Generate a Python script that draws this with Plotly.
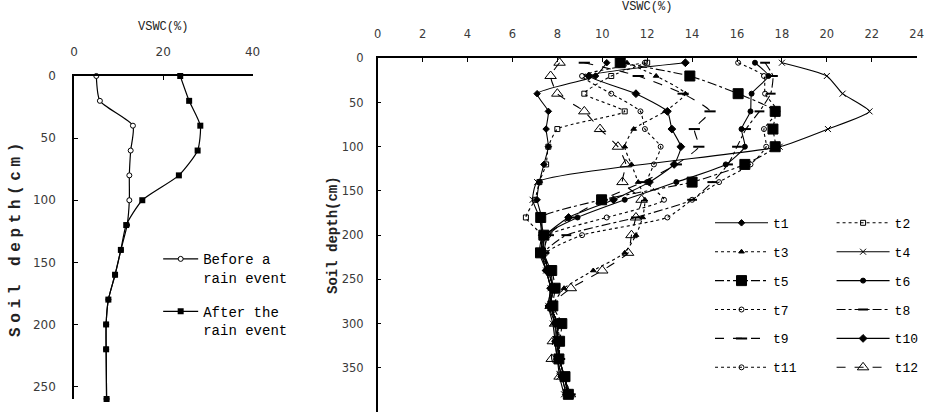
import plotly.graph_objects as go

# ---------------- data ----------------
# Left panel: one profile before and one after a rain event
left_depth = [0, 20, 40, 60, 80, 100, 120, 140, 160, 180, 200, 220, 260]
before_rain = [5.0, 5.8, 13.2, 12.7, 12.4, 12.4, 11.9, 10.5, 9.2, 7.7, 7.2, 7.2, 7.3]
after_rain = [23.8, 25.8, 28.3, 27.7, 23.5, 15.3, 11.7, 10.5, 9.2, 7.7, 7.2, 7.2, 7.3]

# Right panel: twelve profiles t1..t12
depth = [5, 20, 40, 60, 80, 100, 120, 140, 160, 180, 200, 220, 240, 260, 280, 300, 320, 340, 360, 380]
t1 = [10.2, 9.7, 7.1, 7.6, 7.5, 7.6, 7.4, 7.2, 7.1, 7.3, 7.3, 7.2, 7.5, 7.7, 7.6, 7.9, 7.9, 8.0, 8.2, 8.4]
t2 = [12.0, 10.4, 9.2, 11.0, 8.0, 7.6, 7.5, 7.2, 7.0, 6.6, 7.3, 7.3, 7.6, 7.8, 7.7, 8.0, 8.0, 8.1, 8.3, 8.5]
t3 = [11.1, 12.4, 13.7, 12.8, 11.4, 11.0, 11.3, 11.6, 11.9, 11.8, 11.5, 11.0, 9.6, 8.3, 7.8, 8.0, 8.1, 8.1, 8.3, 8.6]
t4 = [18.0, 20.0, 20.7, 21.9, 20.05, 17.9, None, 7.1, 6.9, 7.2, 7.3, 7.3, 7.5, 7.7, 7.6, 7.8, 7.9, 8.0, 8.1, 8.3]
t5 = [10.8, 13.9, 16.05, 17.7, 17.6, 17.7, 16.35, 14.0, 9.97, 7.26, 7.4, 7.25, 7.75, 7.9, 7.8, 8.2, 8.1, 8.07, 8.34, 8.49]
t6 = [16.8, 17.4, 16.65, 16.6, 16.2, 16.35, 15.5, 13.3, 11.0, 8.9, 7.45, 7.4, 7.7, 7.8, 7.7, 8.0, 8.0, 8.1, 8.3, 8.5]
t7 = [16.05, 17.2, 17.25, 17.8, 17.2, 17.3, 16.6, 15.2, 14.0, 12.9, 9.1, 7.5, 7.6, 7.8, 7.7, 8.0, 8.0, 8.1, 8.3, 8.5]
t8 = [17.25, 17.6, 17.5, 17.0, 16.4, 16.0, 15.6, 14.9, 14.0, 11.5, 8.4, 7.4, 7.6, 7.8, 7.7, 8.0, 8.1, 8.1, 8.3, 8.6]
t9 = [9.2, 11.6, 13.6, 14.8, 14.1, 14.3, 13.3, 11.8, 10.0, 8.6, 7.6, 7.4, 7.6, 7.8, 7.7, 8.0, 8.0, 8.1, 8.3, 8.5]
t10 = [13.7, 9.4, 11.5, 12.9, 13.1, 13.5, 13.2, 12.1, 10.5, 8.5, 7.5, 7.3, 7.5, 7.7, 7.7, 7.9, 8.0, 8.0, 8.2, 8.4]
t11 = [11.9, 9.1, 10.4, 11.7, 11.9, 12.6, 12.3, 12.0, 12.75, 10.2, 7.6, 7.4, 7.6, 7.8, 7.7, 8.0, 8.0, 8.1, 8.3, 8.5]
t12 = [8.1, 7.7, 8.0, 9.2, 9.9, 10.7, 11.05, 10.9, 11.75, 11.5, 11.3, 11.15, 10.0, 8.6, 7.7, 7.9, 7.8, 7.75, 8.1, 8.56]

series_names = ["t1", "t2", "t3", "t4", "t5", "t6", "t7", "t8", "t9", "t10", "t11", "t12"]
series_values = [t1, t2, t3, t4, t5, t6, t7, t8, t9, t10, t11, t12]

left_x_ticks = [0, 20, 40]
left_y_ticks = [0, 50, 100, 150, 200, 250]
right_x_ticks = [0, 2, 4, 6, 8, 10, 12, 14, 16, 18, 20, 22, 24]
right_y_ticks = [0, 50, 100, 150, 200, 250, 300, 350, 400]

# ---------------- styles ----------------
styles = {
    "t1": dict(dash="solid", symbol="diamond", size=5),
    "t2": dict(dash="dot", symbol="square-open", size=5),
    "t3": dict(dash="dot", symbol="triangle-up", size=5),
    "t4": dict(dash="solid", symbol="x-thin-open", size=6),
    "t5": dict(dash="dashdot", symbol="square", size=10),
    "t6": dict(dash="solid", symbol="circle", size=5),
    "t7": dict(dash="dot", symbol="circle-open", size=5),
    "t8": dict(dash="dashdot", symbol="line-ew-open", size=7),
    "t9": dict(dash="dash", symbol="line-ew-open", size=8),
    "t10": dict(dash="solid", symbol="diamond", size=6),
    "t11": dict(dash="dot", symbol="circle-open", size=5),
    "t12": dict(dash="dash", symbol="triangle-up-open", size=10),
}
left_legend_col = ["t1", "t3", "t5", "t7", "t9", "t11"]

MONO = "Liberation Mono"
SANS = "DejaVu Sans"
TICK_COLOR = "#3a3a3a"

fig = go.Figure()

# left panel
fig.add_trace(go.Scatter(
    x=before_rain, y=left_depth, name="Before a<br>rain event",
    mode="lines+markers", xaxis="x", yaxis="y", legend="legend3",
    legendgroup="b", cliponaxis=False,
    line=dict(color="black", width=1.2, shape="spline", smoothing=0.6),
    marker=dict(symbol="circle", size=5, color="white", line=dict(color="black", width=1)),
))
fig.add_trace(go.Scatter(
    x=after_rain, y=left_depth, name="After the<br>rain event",
    mode="lines+markers", xaxis="x", yaxis="y", legend="legend3",
    legendgroup="a", cliponaxis=False,
    line=dict(color="black", width=1.2, shape="spline", smoothing=0.6),
    marker=dict(symbol="square", size=6, color="black"),
))

# right panel
for name, vals in zip(series_names, series_values):
    st = styles[name]
    is_line_sym = st["symbol"].startswith("line")
    fig.add_trace(go.Scatter(
        x=vals, y=depth, name=name, mode="lines+markers",
        xaxis="x2", yaxis="y2", connectgaps=True, cliponaxis=False,
        legend="legend" if name in left_legend_col else "legend2",
        legendgroup=name,
        line=dict(color="black", width=1.1, dash=st["dash"], shape="spline", smoothing=0.5),
        marker=dict(symbol=st["symbol"], size=st["size"], color="black",
                    line=dict(color="black", width=2 if is_line_sym else 1)),
    ))

axis_common = dict(
    showline=True, linecolor="black", linewidth=1.5, mirror=False,
    ticks="inside", ticklen=4, tickwidth=1.2, tickcolor="black",
    showgrid=False, zeroline=False, automargin=False,
    tickfont=dict(family=SANS, size=12, color=TICK_COLOR),
)

LEFT_X_DOMAIN = [0.080, 0.273]

fig.update_layout(
    width=925, height=418,
    margin=dict(l=0, r=0, t=0, b=0, autoexpand=False),
    paper_bgcolor="white", plot_bgcolor="white",
    xaxis=dict(axis_common, domain=LEFT_X_DOMAIN, range=[0, 40], side="top",
               anchor="y", tickvals=left_x_ticks, ticklabelstandoff=13),
    yaxis=dict(axis_common, domain=[0.0455, 0.8182], range=[260, 0],
               anchor="x", tickvals=left_y_ticks, ticklabelstandoff=14,
               title=dict(text="<b>Soil depth(cm)</b>", font=dict(family=MONO, size=16, color="#222"), standoff=8)),
    xaxis2=dict(axis_common, domain=[0.4083, 0.9910], range=[0, 24], side="top",
                anchor="y2", tickvals=right_x_ticks, ticklabelstandoff=14,
                tickfont=dict(family=SANS, size=11.5, color=TICK_COLOR),
                title=dict(text="VSWC(%)", font=dict(family=MONO, size=12, color="#222"))),
    yaxis2=dict(axis_common, domain=[0.01435, 0.8605], range=[400, 0],
                anchor="x2", tickvals=right_y_ticks, ticklabelstandoff=10,
                tickfont=dict(family=SANS, size=11.5, color=TICK_COLOR),
                title=dict(text="<b>Soil depth(cm)</b>", font=dict(family=MONO, size=14, color="#222"), standoff=1)),
    legend=dict(x=0.7676, y=0.5027, xanchor="left", yanchor="top",
                font=dict(family=MONO, size=13, color="black"),
                itemwidth=53, traceorder="grouped", tracegroupgap=9,
                bgcolor="rgba(0,0,0,0)", borderwidth=0),
    legend2=dict(x=0.899, y=0.5027, xanchor="left", yanchor="top",
                 font=dict(family=MONO, size=13, color="black"),
                 itemwidth=53, traceorder="grouped", tracegroupgap=9,
                 bgcolor="rgba(0,0,0,0)", borderwidth=0),
    legend3=dict(x=0.171, y=0.418, xanchor="left", yanchor="top",
                 font=dict(family=MONO, size=14, color="black"),
                 itemwidth=35, traceorder="grouped", tracegroupgap=13, valign="top",
                 bgcolor="rgba(0,0,0,0)", borderwidth=0),
    showlegend=True,
    annotations=[dict(text="VSWC(%)", xref="paper", yref="paper",
                      x=(LEFT_X_DOMAIN[0] + LEFT_X_DOMAIN[1]) / 2, y=0.9354,
                      xanchor="center", yanchor="middle", showarrow=False,
                      font=dict(family=MONO, size=12, color="#222"))],
)

post = """
var gd = document.getElementById('{plot_id}');
function spaceTitle() {
  var t = gd.querySelectorAll('text.ytitle');
  t.forEach(function(e){ e.style.letterSpacing = '4.6px'; });
}
spaceTitle();
if (gd.on) { gd.on('plotly_afterplot', spaceTitle); }
setTimeout(spaceTitle, 50);
"""

fig.write_html("out.html", post_script=post)
